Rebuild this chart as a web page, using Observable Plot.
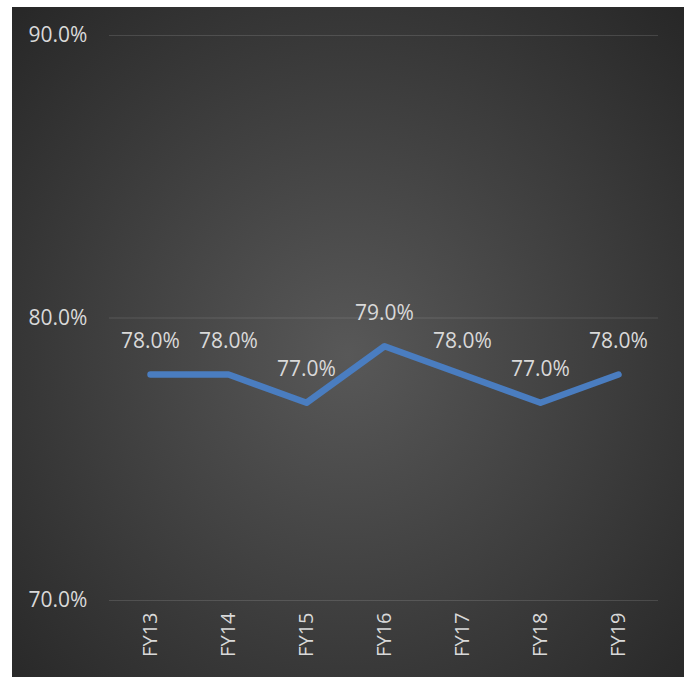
<!DOCTYPE html>
<html>
<head>
<meta charset="utf-8">
<script src="https://cdn.jsdelivr.net/npm/d3@7"></script>
<script src="https://cdn.jsdelivr.net/npm/@observablehq/plot@0.6"></script>
<style>
  html, body { margin: 0; padding: 0; background: #ffffff; }
  #chart {
    position: absolute; left: 12px; top: 7px; width: 672px; height: 670px;
    background: radial-gradient(ellipse farthest-corner at 50% 52%, #585858 0%, #424242 45%, #272727 100%);
  }
  #chart svg { display: block; }
</style>
</head>
<body>
<div id="chart"></div>
<script>
const years = ["FY13", "FY14", "FY15", "FY16", "FY17", "FY18", "FY19"];
const values = [0.78, 0.78, 0.77, 0.79, 0.78, 0.77, 0.78];
const yTicks = [0.70, 0.80, 0.90];

const data = years.map((y, i) => ({year: y, value: values[i]}));
const fmt = d3.format(".1%");
const font = "'Open Sans', sans-serif";

const chart = Plot.plot({
  width: 672,
  height: 670,
  marginTop: 28,
  marginBottom: 77,
  marginLeft: 97,
  marginRight: 26,
  style: {background: "transparent", fontFamily: font, color: "#d9d9d9"},
  x: {type: "point", domain: years, padding: 0.5, label: null},
  y: {domain: [0.70, 0.90], label: null, axis: null},
  marks: [
    Plot.ruleY(yTicks, {stroke: "#ffffff", strokeOpacity: 0.13, strokeWidth: 1.2}),
    Plot.text(yTicks, {y: d => d, text: d => fmt(d), frameAnchor: "left", dx: -81, textAnchor: "start", fill: "#d9d9d9", fontSize: 21}),
    Plot.axisX({tickSize: 0, tickPadding: 12, tickRotate: -90, fontSize: 20, fill: "#d9d9d9", label: null}),
    Plot.line(data, {x: "year", y: "value", stroke: "#4a7dc0", strokeWidth: 6.5, strokeLinecap: "round", strokeLinejoin: "round"}),
    Plot.text(data, {x: "year", y: "value", text: d => fmt(d.value), dy: -33, fill: "#d9d9d9", fontSize: 21})
  ]
});
document.getElementById("chart").appendChild(chart);
</script>
</body>
</html>
